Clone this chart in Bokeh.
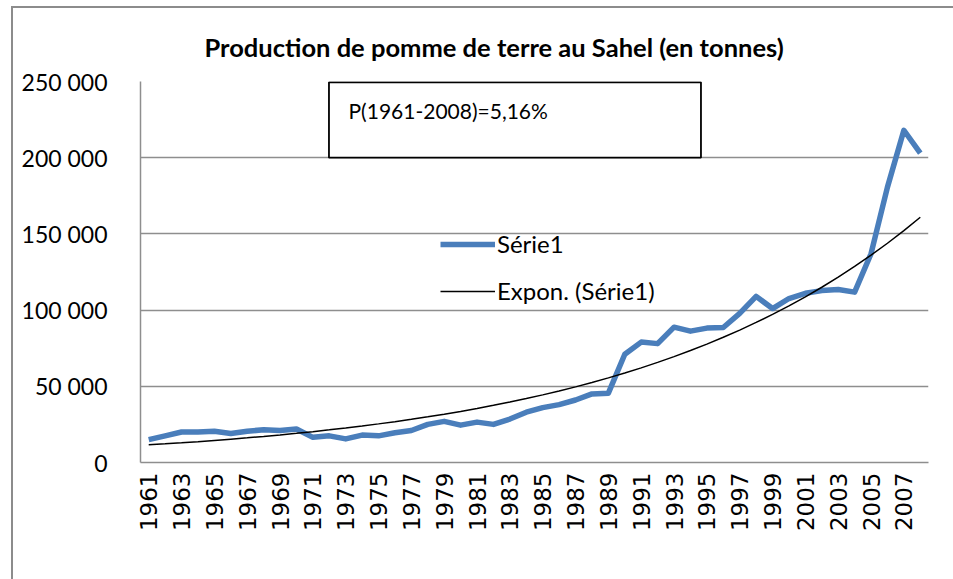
import numpy as np
from bokeh.plotting import figure
from bokeh.models import (Range1d, FixedTicker, CustomJSTickFormatter, Label,
                          BoxAnnotation, Legend, LegendItem)
from bokeh.embed import file_html
from bokeh.resources import INLINE

# ---- data ----
years = list(range(1961, 2009))
production = [15000, 17500, 20000, 20000, 20500, 19000, 20500, 21500, 21000, 22000,
              16500, 17500, 15500, 18000, 17500, 19500, 21000, 25000, 27000, 24500,
              26500, 25000, 28500, 33000, 36000, 38000, 41000, 45000, 45500, 71000,
              79000, 78000, 88800, 86200, 88200, 88600, 97800, 109000, 101000, 107600,
              111000, 112800, 113500, 111800, 137000, 180700, 218000, 203000]
y_ticks = [0, 50000, 100000, 150000, 200000, 250000]
x_ticks = list(range(1961, 2009, 2))
title_text = "Production de pomme de terre au Sahel (en tonnes)"
box_text = "P(1961-2008)=5,16%"
series_name = "Série1"
trend_name = "Expon. (Série1)"

# exponential trend fitted to the series (least squares on log values)
b, a = np.polyfit(np.array(years, dtype=float), np.log(np.array(production, dtype=float)), 1)
trend = list(np.exp(a + b * np.array(years, dtype=float)))

FONT = "Lato"
GRID = "#8e8e8e"

p = figure(width=953, height=579, output_backend="svg", toolbar_location=None,
           x_range=Range1d(1960.5, 2008.5), y_range=Range1d(0, 250000),
           min_border_left=140, min_border_right=25, min_border_top=81,
           min_border_bottom=117)
p.outline_line_color = None
p.background_fill_color = "white"
p.border_fill_color = None
p.styles = {
    "background": ("linear-gradient(#8c8c8c,#8c8c8c) 11px 6px / 2px 100% no-repeat, "
                   "linear-gradient(#8c8c8c,#8c8c8c) 11px 6px / 100% 2px no-repeat, white"),
}

# title
p.title.text = title_text
p.title.align = "left"
p.title.offset = 64
p.title.text_font = FONT
p.title.text_font_size = "25.5px"
p.title.text_font_style = "bold"
p.title.text_color = "black"
p.title.standoff = 39

# grid
p.xgrid.grid_line_color = None
p.ygrid.grid_line_color = GRID
p.ygrid.grid_line_width = 1.5
p.ygrid.ticker = FixedTicker(ticks=y_ticks)

# y axis
p.yaxis.ticker = FixedTicker(ticks=y_ticks)
p.yaxis.formatter = CustomJSTickFormatter(
    code="return String(tick).replace(/\\B(?=(\\d{3})+(?!\\d))/g, ' ');")
p.yaxis.axis_line_color = GRID
p.yaxis.axis_line_width = 1.5
p.yaxis.major_tick_line_color = None
p.yaxis.minor_tick_line_color = None
p.yaxis.major_label_text_font = FONT
p.yaxis.major_label_text_font_size = "23px"
p.yaxis.major_label_text_color = "black"
p.yaxis.major_label_standoff = 27

# x axis
p.xaxis.ticker = FixedTicker(ticks=x_ticks)
p.xaxis.axis_line_color = GRID
p.xaxis.axis_line_width = 1.5
p.xaxis.major_tick_line_color = None
p.xaxis.minor_tick_line_color = None
p.xaxis.major_label_orientation = np.pi / 2
p.xaxis.major_label_text_font = "DejaVu Sans"
p.xaxis.major_label_text_font_size = "23px"
p.xaxis.major_label_text_color = "black"
p.xaxis.major_label_standoff = 4

# lines
r1 = p.line(years, production, line_color="#4a7ebb", line_width=5.5, line_join="round")
r2 = p.line(years, trend, line_color="black", line_width=1.5)

# text box
box = BoxAnnotation(left=1971.98, right=1994.64, top=249500, bottom=200000,
                    fill_color="white", fill_alpha=1.0, line_color="black",
                    line_alpha=1.0, line_width=1.8)
p.add_layout(box)
p.add_layout(Label(x=208, y=352, x_units="screen", y_units="screen", text=box_text,
                   text_font=FONT, text_font_size="21px", text_baseline="middle",
                   text_color="black"))

# legend
legend = Legend(items=[LegendItem(label=series_name, renderers=[r1]),
                       LegendItem(label=trend_name, renderers=[r2])],
                location=(300, 157), orientation="vertical",
                glyph_width=55, glyph_height=26, label_height=26, spacing=18,
                label_standoff=2, padding=0, margin=0,
                border_line_color=None, background_fill_alpha=0,
                label_text_font=FONT, label_text_font_size="24px",
                label_text_color="black")
p.add_layout(legend)

open("out.html", "w").write(file_html(p, INLINE))
